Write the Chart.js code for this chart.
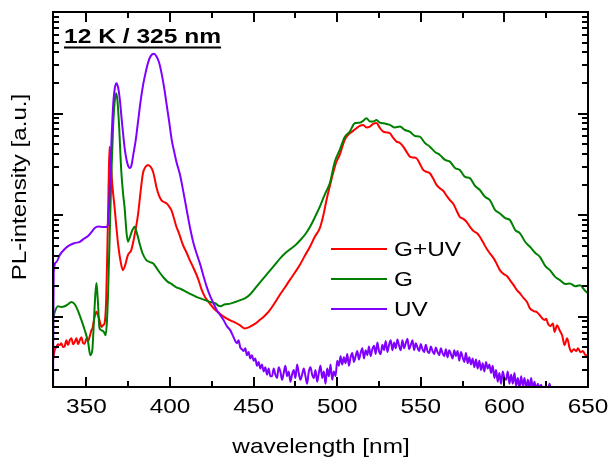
<!DOCTYPE html>
<html>
<head>
<meta charset="utf-8">
<script src="https://cdn.jsdelivr.net/npm/chart.js@4/dist/chart.umd.min.js"></script>
<style>
  html, body { margin: 0; padding: 0; background: #fff; }
  #wrap { width: 609px; height: 466px; }
</style>
</head>
<body>
<div id="wrap"><canvas id="c" width="609" height="466"></canvas></div>
<script>
// PL spectra at 12 K, excitation 325 nm (intensity in arbitrary units, log scale)
const seriesNames = ['G+UV', 'G', 'UV'];
const seriesColors = ['#ff0000', '#008000', '#8000ff'];
const xTickValues = [350, 400, 450, 500, 550, 600, 650];

// UV sample
const wlUV = [
  330,330.4,332,334,337,340,343,346,349,351,
  353,355,357,360,362,363,364,365,366,367,
  368,369,370,371,372,373,374,375,376,377,
  378,379.5,381,382.5,384,385.5,387,388.5,390.3,392,
  393.5,395,396.5,398,399.5,401,402.5,404,406,408,
  410,412,414,416,418,420,422,424,426,428,
  430,432,434,436,438,440,441,442,443,444,
  445,446,447,448,449,450,451,452,453,454,
  455,456,457,458,459,460,
  461,462,463,464,465,466,467,468,469,470,
  471,472,473,474,475,476,477,478,479,480,
  481,482,483,484,485,486,487,488,489,490,
  491,492,493,494,495,496,497,498,499,500,
  501,502,503,504,505,506,507,508,509,510,
  511,512,513,514,515,516,517,518,519,520,
  521,522,523,524,525,526,527,528,529,530,
  531,532,533,534,535,536,537,538,539,540,
  541,542,543,544,545,546,547,548,549,550,
  551,552,553,554,555,556,557,558,559,560,
  561,562,563,564,565,566,567,568,569,570,
  571,572,573,574,575,576,577,578,579,580,
  581,582,583,584,585,586,587,588,589,590,
  591,592,593,594,595,596,597,598,599,600,
  601,602,603,604,605,606,607,608,609,610,
  611,612,613,614,615,616,617,618,619,620,
  621,622,623,624,625,626,627,628,629,630
];
const uv = [
  1.5,27.5,34.6,40.5,46.5,50.8,53.2,54.8,59.6,62.4,
  68.2,74.8,77.4,76.6,76.6,85.7,198,551,1219,1791,
  1995,1791,1365,908,617,439,350,305,292,313,
  392,551,867,1365,1963,2576,3228,3698,3873,3622,
  3162,2460,1791,1219,828,551,420,327,249,169,
  112,74.8,53.2,41.5,33,25.2,19.6,16,13.6,11.6,
  10.4,9.3,8.1,7.4,6.3,5.5,5.9,5.0,4.8,4.6,
  4.9,4.2,4.5,3.9,4.2,3.7,3.9,3.3,3.6,3.1,
  3.4,2.9,3.2,2.7,3.1,2.6,
  2.6,3.1,2.7,2.5,3.2,2.9,2.4,2.8,3.3,2.6,
  2.9,2.3,2.7,3.0,2.5,3.4,2.8,2.4,2.7,3.1,
  2.6,2.2,2.9,3.2,2.7,2.5,3.0,2.3,2.8,3.3,
  2.5,2.9,2.2,3.1,2.6,3.4,2.4,2.9,2.6,3.7,
  3.3,4.1,3.4,4.0,3.5,4.3,3.3,4.0,4.4,3.6,
  4.1,4.6,3.8,4.4,4.9,3.9,4.7,4.2,5.1,4.1,
  4.8,5.2,4.3,5.6,4.6,4.3,5.3,4.7,5.8,4.5,
  5.3,5.9,4.7,5.6,4.9,6.0,5.2,4.7,5.9,4.9,
  5.5,6.1,4.8,5.3,5.9,4.7,5.5,5.0,4.6,5.4,
  4.8,4.5,5.3,4.6,4.4,5.1,4.6,4.3,5.0,4.5,
  4.2,4.9,4.4,4.1,4.8,4.0,4.7,4.3,3.9,4.7,
  4.1,4.6,3.7,4.5,4.0,3.6,4.4,3.5,4.0,3.4,
  3.9,3.2,3.8,3.1,3.7,3.0,3.5,2.9,3.6,3.1,
  3.4,2.8,3.3,2.5,3.0,2.3,2.8,2.2,2.9,2.5,
  2.4,2.9,2.2,2.7,2.2,2.8,2.1,2.5,2.0,2.6,
  2.1,2.5,1.95,2.4,2.0,2.5,1.95,2.3,1.9,2.2,
  2.0,2.15,1.9,2.05,1.85,1.9,2.2,1.8,1.6,1.4
];

// G sample
const wlG = [
  330.2,331,333,335,337,339,341,343,345,347,
  349,351,352.3,353.5,354.5,355.3,356,356.8,357.8,359,
  360.5,361.5,362.3,363,364,365,366,367,367.8,368.5,
  369.5,370.8,372,372.8,374,374.8,376,377.5,378.8,380,
  381.8,383.5,385.8,388,389.8,392,394,396.5,398.7,401,
  403.8,406.5,409.7,412.5,415.7,418.5,421,424,427,430,
  433,436,439,442,445,448,451,454,457,460,
  463,466,469,472,475,478,481,484,487,490,
  493,495.6,498.5,501.5,504.5,507.5,510.5,513.5,515.5,517.5,
  519.5,521.5,523.5,525.5,528.5,531.5,534.5,537.5,540.5,543.4,
  546.5,549.4,552.5,555.4,558.5,561.4,564.5,567.4,570.5,573.3,
  576.5,579.3,582.5,585.3,588.5,591.3,594.5,597.3,600.5,603.3,
  606.5,609.3,612.5,615.3,618.5,621.2,624.5,627.2,630.5,633.2,
  636.5,639.2,642.5,645.2,648,650
];
const g = [
  9.7,11.1,12.7,12.5,12.7,13.3,14.0,13.3,11.4,9.29,
  7.39,5.63,4.2,4.7,9.29,16.4,21.5,14.6,7.74,7.39,
  7.06,6.6,9.29,18.3,71.5,279,774,1365,1589,1365,
  774,279,158,120,66.8,54.8,61,71.5,77.1,68.2,
  52.8,42.5,36.2,34.6,33.6,30.2,27,24,22.1,21,
  19.5,18.8,17.6,16.7,15.7,15.1,14.6,14.0,13.6,12.7,
  13.3,13.5,14.0,14.6,15.3,16.7,19.2,22,25.2,28.8,
  33,37.8,42.5,46.5,50.8,57,65.3,78.3,98.2,126,
  166,207,334,439,589,665,804,815,847,902,
  838,836,867,815,800,774,731,745,690,665,
  603,593,514,473,420,392,350,337,292,279,
  238,232,194,177,151,141,112,104,93.8,89.7,
  71.5,66.4,54.5,49,42.5,39,31.6,28.8,24.6,23,
  21,21.3,20,20.5,18.3,17
];

// G+UV sample
const wlGUV = [
  330,331,332,333,334,335,336,337,338,339,
  340,341,342,343,344,345,346,347,348,349,
  350,351,352,353,353.6,354.5,355.9,357,357.8,359,
  360,360.8,361.8,362.5,363.2,363.8,364.5,365.5,366.8,367.8,
  369,370.5,371.8,373,374.8,376.8,378.8,380.8,382.5,383.8,
  385.3,386.8,388.5,389.8,391,391.8,393.3,394.8,396.3,397.8,
  399.3,400.8,402.3,403.8,405.3,406.7,408,410,411.8,413.7,
  416.7,419,421,423.7,426.5,429.7,432.5,435.7,438.5,441.7,
  444.6,447.6,450.5,453.6,456.5,459.6,462.5,465.6,468.5,471.6,
  474.5,477.6,480.5,483.6,486.5,489.6,491.6,493.6,495.6,497.5,
  499.5,501.5,503,504.5,506,507.5,509.5,511.5,513.5,515.5,
  517.5,519.5,521.5,523.5,525.5,527.5,529.5,531.5,533.5,535.5,
  537.5,539.5,541.5,543.4,545.5,547.4,549.5,551.4,553.5,555.4,
  557.5,559.4,561.4,563.5,565.5,567.4,569.5,571.5,573.3,575.5,
  577.5,579.3,581.5,583.5,585.3,587.5,589.5,591.3,593.5,595.5,
  597.3,599.5,601.5,603.3,605.5,607.5,609.3,611.5,613.5,615.3,
  617.5,619.5,621.5,624,625,626,627.5,629,630,631.5,
  633,634.5,636,637.5,639,640,641.5,643,644,645.5,
  647,648.5,650
];
const guv = [
  3.74,4.7,5.06,5.38,5.27,5.5,5.04,5.14,5.89,5.27,
  5.89,6.17,5.38,5.67,6.17,5.38,5.89,6.31,5.5,5.45,
  6.17,5.75,6.46,7.39,7.69,9.29,11.2,10.2,9.29,7.96,
  8.28,8.6,14.6,45.4,177,473,350,198,121,80,
  50.8,34.6,28.8,31.6,40.5,45.4,63.8,100,177,259,
  298,313,298,269,222,191,158,141,135,131,
  123,112,93.8,77.1,66.8,57,49.8,42.5,36.2,31.1,
  23.9,18.3,15.6,13.6,11.9,10.8,9.93,9.29,8.87,8.28,
  7.69,7.96,8.47,9.29,10.2,11.6,13.6,16.4,19.2,23,
  27,32.3,39.6,48.6,61,74.8,98.2,141,194,259,
  334,392,470,551,603,641,676,718,757,774,
  731,745,792,809,723,665,653,641,577,530,
  514,473,420,377,370,364,319,279,267,259,
  228,199,184,173,155,141,129,110,96.6,91.8,
  85.7,77.1,69.8,66.8,61.4,53.2,46.5,42.2,37.8,33,
  28.8,26.4,25.2,23,20.5,18.3,17,15.3,14.0,12.1,
  11.4,11.1,10.2,9.29,9.6,8.6,8.1,8.6,7.11,8.28,
  7.39,6.6,5.27,6.17,4.92,4.52,4.81,4.6,4.92,4.49,
  4.6,4.2,4.2
];

const FONT = '"Liberation Sans", Arial, Helvetica, sans-serif';
const pairs = (xs, ys) => xs.map((x, i) => ({ x: x, y: ys[i] }));

function drawLabel(ctx, text, cx, cy, opts) {
  ctx.save();
  ctx.translate(cx, cy);
  if (opts.angle) ctx.rotate(opts.angle);
  ctx.scale(opts.stretch || 1, 1);
  ctx.font = (opts.bold ? 'bold ' : '') + opts.size + 'px ' + FONT;
  ctx.fillStyle = '#000';
  ctx.textAlign = opts.align || 'center';
  ctx.textBaseline = 'middle';
  ctx.fillText(text, 0, 0);
  if (opts.underline) {
    const w = ctx.measureText(text).width;
    const x0 = opts.align === 'left' ? 0 : -w / 2;
    ctx.lineWidth = 2.2;
    ctx.strokeStyle = '#000';
    ctx.beginPath();
    ctx.moveTo(x0, opts.underline);
    ctx.lineTo(x0 + w, opts.underline);
    ctx.stroke();
  }
  ctx.restore();
}

// frame, inward ticks, tick labels, axis titles, legend and caption
const decorations = {
  id: 'decorations',
  afterDatasetsDraw(chart) {
    const { ctx, chartArea: a, scales } = chart;
    const xs = scales.x, ys = scales.y;
    ctx.save();
    ctx.strokeStyle = '#000';
    ctx.lineWidth = 2;
    ctx.lineCap = 'butt';
    ctx.strokeRect(a.left, a.top, a.right - a.left, a.bottom - a.top);

    ctx.beginPath();
    for (let v = 350; v <= 650; v += 25) {
      const px = Math.round(xs.getPixelForValue(v));
      const len = (v % 50 === 0) ? 10 : 6;
      ctx.moveTo(px, a.bottom); ctx.lineTo(px, a.bottom - len);
      ctx.moveTo(px, a.top); ctx.lineTo(px, a.top + len);
    }
    for (let e = 0; e <= 4; e++) {
      for (let k = 1; k <= 9; k++) {
        const v = k * Math.pow(10, e);
        if (v < ys.min || v > ys.max) continue;
        const py = Math.round(ys.getPixelForValue(v));
        const len = k === 1 ? 10 : 6;
        ctx.moveTo(a.left, py); ctx.lineTo(a.left + len, py);
        ctx.moveTo(a.right, py); ctx.lineTo(a.right - len, py);
      }
    }
    ctx.stroke();

    xTickValues.forEach(v => {
      drawLabel(ctx, String(v), xs.getPixelForValue(v), 407, { size: 21, stretch: 1.16 });
    });
    drawLabel(ctx, 'wavelength [nm]', (a.left + a.right) / 2 + 0.5, 447, { size: 21, stretch: 1.16 });
    drawLabel(ctx, 'PL-intensity [a.u.]', 20, 187, { size: 21, stretch: 1.15, angle: -Math.PI / 2 });
    drawLabel(ctx, '12 K / 325 nm', 64, 37, { size: 21, bold: true, stretch: 1.17, align: 'left', underline: 10.5 });

    seriesNames.forEach((name, i) => {
      const yRow = 249 + i * 30;
      ctx.strokeStyle = seriesColors[i];
      ctx.lineWidth = 2;
      ctx.beginPath();
      ctx.moveTo(331, yRow); ctx.lineTo(387, yRow);
      ctx.stroke();
      drawLabel(ctx, name, 394, yRow + 1, { size: 21, stretch: 1.16, align: 'left' });
    });
    ctx.restore();
  }
};

const lineStyle = (color) => ({
  borderColor: color,
  backgroundColor: color,
  borderWidth: 2,
  pointRadius: 0,
  fill: false,
  cubicInterpolationMode: 'monotone',
  clip: 1
});

new Chart(document.getElementById('c'), {
  type: 'line',
  data: {
    datasets: [
      Object.assign({ label: seriesNames[2], data: pairs(wlUV, uv) }, lineStyle(seriesColors[2])),
      Object.assign({ label: seriesNames[1], data: pairs(wlG, g) }, lineStyle(seriesColors[1])),
      Object.assign({ label: seriesNames[0], data: pairs(wlGUV, guv) }, lineStyle(seriesColors[0]))
    ]
  },
  options: {
    responsive: false,
    animation: false,
    devicePixelRatio: 1,
    layout: { padding: { top: 12, right: 21, left: 0, bottom: 0 } },
    plugins: { legend: { display: false }, tooltip: { enabled: false } },
    scales: {
      x: {
        type: 'linear', min: 330, max: 650,
        grid: { display: false }, border: { display: false },
        ticks: { display: false },
        afterFit: (s) => { s.height = 79; }
      },
      y: {
        type: 'logarithmic', min: 2.04, max: 10000,
        grid: { display: false }, border: { display: false },
        ticks: { display: false },
        afterFit: (s) => { s.width = 53; }
      }
    }
  },
  plugins: [decorations]
});
</script>
</body>
</html>
